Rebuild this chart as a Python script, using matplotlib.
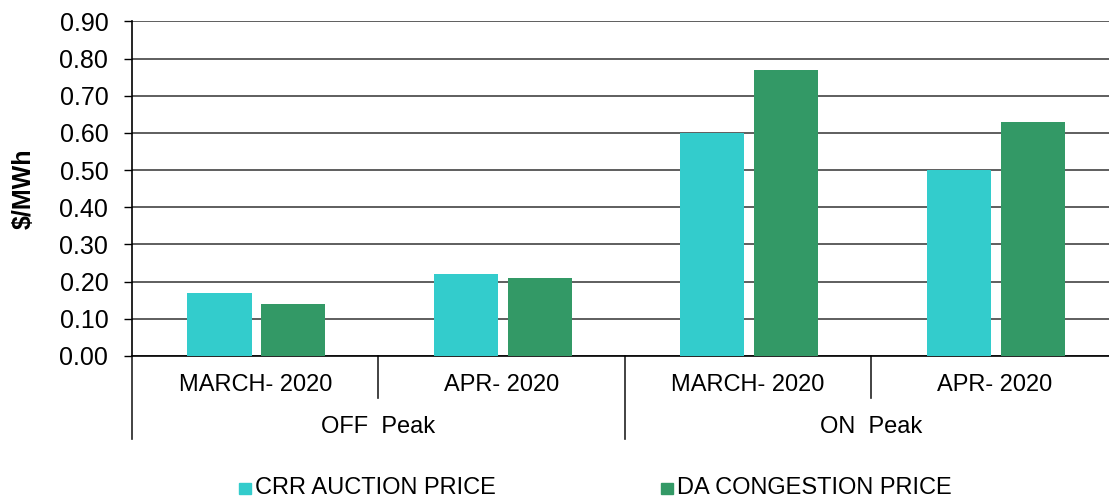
import numpy as np
import matplotlib.pyplot as plt

months = ["MARCH- 2020", "APR- 2020", "MARCH- 2020", "APR- 2020"]
periods = ["OFF  Peak", "ON  Peak"]
crr_price = [0.17, 0.22, 0.60, 0.50]
da_price = [0.14, 0.21, 0.77, 0.63]
yticks = [0.0, 0.1, 0.2, 0.3, 0.4, 0.5, 0.6, 0.7, 0.8, 0.9]

crr_color = "#33CCCC"
da_color = "#339966"

plt.rcParams["font.family"] = ["Liberation Sans", "DejaVu Sans"]

fig = plt.figure(figsize=(11.09, 4.99), dpi=100)
ax = fig.add_axes([0.119, 0.2866, 0.889, 0.6704])

x = np.arange(len(months))
w = 0.26
ax.bar(x - 0.145, crr_price, w, color=crr_color, zorder=3)
ax.bar(x + 0.155, da_price, w, color=da_color, zorder=3)

ax.set_xlim(-0.5, len(months) - 0.5)
ax.set_ylim(0, 0.9)
ax.set_yticks(yticks)
ax.set_yticklabels([f"{v:.2f}" for v in yticks], fontsize=18)
ax.tick_params(axis="y", length=6, width=1, pad=11)
ax.grid(axis="y", color="#333333", linewidth=1.1, zorder=0)
ax.set_xticks([])

for s in ["top", "right"]:
    ax.spines[s].set_visible(False)
ax.spines["left"].set_linewidth(1.2)
ax.spines["bottom"].set_linewidth(1.2)

ax.set_ylabel("$/MWh", fontsize=18, fontweight="bold", labelpad=17)

# two-level category axis below the bars
trans = ax.get_xaxis_transform()
for i, m in enumerate(months):
    ax.text(i, -0.088, m, transform=trans, ha="center", va="center", fontsize=17)
for j, p in enumerate(periods):
    ax.text(2 * j + 0.5, -0.212, p, transform=trans, ha="center", va="center", fontsize=17)
for xb in [0.5, 2.5]:
    ax.plot([xb, xb], [0, -0.125], transform=trans, color="#222222", lw=1.2, clip_on=False)
for xb in [-0.5, 1.5]:
    ax.plot([xb, xb], [0, -0.247], transform=trans, color="#222222", lw=1.2, clip_on=False)

# legend
fig.patches.append(plt.Rectangle((239 / 1109, 1 - 494 / 499), 11.5 / 1109, 11.5 / 499,
                                 transform=fig.transFigure, color=crr_color))
fig.text(255 / 1109, 1 - 487.5 / 499, "CRR AUCTION PRICE", fontsize=17,
         va="center", ha="left")
fig.patches.append(plt.Rectangle((661 / 1109, 1 - 494 / 499), 11.5 / 1109, 11.5 / 499,
                                 transform=fig.transFigure, color=da_color))
fig.text(677 / 1109, 1 - 487.5 / 499, "DA CONGESTION PRICE", fontsize=17,
         va="center", ha="left")

fig.savefig("out.png", dpi=100)
